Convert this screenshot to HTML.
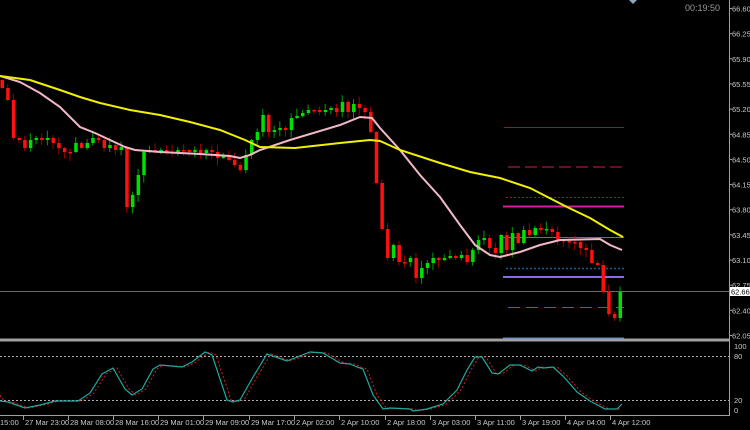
<!DOCTYPE html>
<html><head><meta charset="utf-8"><style>
html,body{margin:0;padding:0;background:#000;width:750px;height:430px;overflow:hidden}
svg{display:block}
text{font-family:"Liberation Sans",sans-serif;font-size:8px;fill:#c8c8c8}
.ra{font-size:7.5px}
</style></head><body>
<svg id="s" width="750" height="430" viewBox="0 0 750 430" xmlns="http://www.w3.org/2000/svg">
<rect width="750" height="430" fill="#000"/>
<g id="lv">
<line x1="504" y1="127.5" x2="624" y2="127.5" stroke="#8b1a3a" stroke-width="1"/>
<line x1="508" y1="167" x2="624" y2="167" stroke="#6b0f24" stroke-width="2" stroke-dasharray="12,5"/>
<line x1="506" y1="197.5" x2="624" y2="197.5" stroke="#8b1a3a" stroke-width="1" stroke-dasharray="2,2"/>
<line x1="503" y1="206.5" x2="624" y2="206.5" stroke="#d0209a" stroke-width="2"/>
<line x1="503" y1="237.5" x2="624" y2="237.5" stroke="#20a040" stroke-width="1"/>
<line x1="506" y1="268.5" x2="624" y2="268.5" stroke="#1e5a9a" stroke-width="1.5" stroke-dasharray="2,2"/>
<line x1="503" y1="277" x2="624" y2="277" stroke="#8a6ae8" stroke-width="2"/>
<line x1="0" y1="291.5" x2="729" y2="291.5" stroke="#6a6a6a" stroke-width="1"/>
<line x1="508" y1="307.5" x2="624" y2="307.5" stroke="#2a6ab0" stroke-width="1" stroke-dasharray="12,6"/>
<line x1="503" y1="338.5" x2="624" y2="338.5" stroke="#4a8ad8" stroke-width="2"/>
</g>
<g id="cd"></g>
<polyline fill="none" stroke="#f2b8c8" stroke-width="2" points="0,76 20,82 40,93 60,107 80,127 95,133 110,140 125,147 135,150 160,152 200,154 230,156 240,158 250,155 260,150 290,140 340,125 360,117 372,118 380,128 400,150 420,175 440,197 460,225 475,245 490,255 500,257 520,252 540,245 560,240 600,239 610,245 622,250"/>
<polyline fill="none" stroke="#f0f000" stroke-width="2" points="0,76 30,80 60,90 80,97 100,103 130,110 160,115 190,122 220,130 245,140 260,147 295,148 340,143 370,140 380,141 400,150 440,163 470,172 500,178 530,188 567,207 590,218 610,230 623,237"/>
<line x1="0" y1="340" x2="729" y2="340" stroke="#a0a0a0" stroke-width="3"/>
<line x1="729.5" y1="0" x2="729.5" y2="416" stroke="#a0a0a0" stroke-width="1"/>
<line x1="0" y1="415.5" x2="730" y2="415.5" stroke="#a0a0a0" stroke-width="1"/>
<line x1="0" y1="356.5" x2="729" y2="356.5" stroke="#b0b0b0" stroke-dasharray="2,2"/>
<line x1="0" y1="400.5" x2="729" y2="400.5" stroke="#b0b0b0" stroke-dasharray="2,2"/>
<polyline id="rd" fill="none" stroke="#d02020" stroke-width="1" stroke-dasharray="2,2"/>
<polyline id="tl" fill="none" stroke="#20a8a0" stroke-width="1.2"/>
<g id="ax"></g>
<rect x="730" y="287" width="20" height="9" fill="#fff"/>
<text class="ra" x="731" y="294.5" style="fill:#000">62.66</text>
<text x="685" y="11" style="font-size:9px;fill:#9a9a9a">00:19:50</text>
<polygon points="629,0 637,0 633,4" fill="#8ab"/>
<text class="ra" x="734" y="349">100</text><text class="ra" x="734" y="359">80</text><text class="ra" x="734" y="403">20</text><text class="ra" x="734" y="413">0</text>
</svg>
<script>
(function(){
var NS="http://www.w3.org/2000/svg";
function el(t,a,p){var e=document.createElementNS(NS,t);for(var k in a)e.setAttribute(k,a[k]);p.appendChild(e);return e;}
var c=[88,100,138,140,148,140,138,140,138,143,148,152,152,143,148,143,138,140,148,145,150,147,207,195,175,152,150,152,150,152,152,150,150,152,150,153,150,152,158,155,160,165,170,155,140,132,115,132,130,128,130,118,116,113,110,110,112,110,108,112,102,112,104,108,112,132,183,229,258,245,262,262,258,278,268,263,258,260,258,256,258,255,262,250,240,238,248,253,235,250,233,243,230,235,228,230,229,232,240,241,242,242,248,250,263,265,292,314,318,292];
var g=document.getElementById('cd');var prev=80;
for(var i=0;i<c.length;i++){var x=2+i*5.67;var o=prev,cl=c[i];
var up=cl<o;var col=up?'#00e000':'#ff1010';var wc=up?'#00a000':'#a00000';
var tp=Math.min(o,cl),bt=Math.max(o,cl);if(bt-tp<1.5)bt=tp+1.5;
var r1=((i*37)%11)/11,r2=((i*53)%13)/13;
el('line',{x1:x,x2:x,y1:tp-1-r1*7,y2:bt+1+r2*7,stroke:wc,'stroke-width':1},g);
el('rect',{x:x-1.5,y:tp,width:3.5,height:bt-tp,fill:col},g);prev=cl;}
var t=[[0,401],[8,402],[25,408],[40,405],[55,401],[78,401],[90,393],[102,374],[113,368],[125,389],[132,395],[142,389],[153,369],[160,365],[182,367],[192,362],[205,352],[212,355],[227,400],[233,402],[240,400],[253,377],[267,354],[287,361],[310,352],[323,353],[340,363],[350,364],[357,367],[363,369],[373,395],[383,409],[390,408],[410,409],[413,411],[427,409],[443,404],[457,390],[467,370],[475,357],[482,357],[492,373],[498,374],[510,365],[520,365],[532,371],[538,367],[543,368],[553,367],[563,376],[577,392],[590,401],[605,409],[617,409],[622,404]];
document.getElementById('tl').setAttribute('points',t.map(function(p){return p.join(',')}).join(' '));
document.getElementById('rd').setAttribute('points','0,395 '+t.slice(0,-1).map(function(p){return (p[0]+4)+','+p[1]}).join(' '));
var ax=document.getElementById('ax');
var pl=['66.60','66.25','65.90','65.55','65.20','64.85','64.50','64.15','63.80','63.45','63.10','62.75','62.40','62.05'];
for(var j=0;j<pl.length;j++){var y=8.5+j*25.15;el('line',{x1:729,x2:732,y1:y,y2:y,stroke:'#a0a0a0'},ax);var tx=el('text',{x:732,y:y+3,'class':'ra'},ax);tx.textContent=pl[j];}
var tm=[[-2,'15:00'],[23,'27 Mar 23:00'],[68,'28 Mar 08:00'],[113,'28 Mar 16:00'],[158,'29 Mar 01:00'],[203,'29 Mar 09:00'],[249,'29 Mar 17:00'],[294,'2 Apr 02:00'],[339,'2 Apr 10:00'],[385,'2 Apr 18:00'],[430,'3 Apr 03:00'],[475,'3 Apr 11:00'],[520,'3 Apr 19:00'],[565,'4 Apr 04:00'],[610,'4 Apr 12:00']];
tm.forEach(function(p){if(p[0]>0)el('line',{x1:p[0]+.5,x2:p[0]+.5,y1:416,y2:420,stroke:'#a0a0a0'},ax);var tx=el('text',{x:p[0]+2,y:425,'class':'ra'},ax);tx.textContent=p[1];});
})();
</script>
</body></html>
